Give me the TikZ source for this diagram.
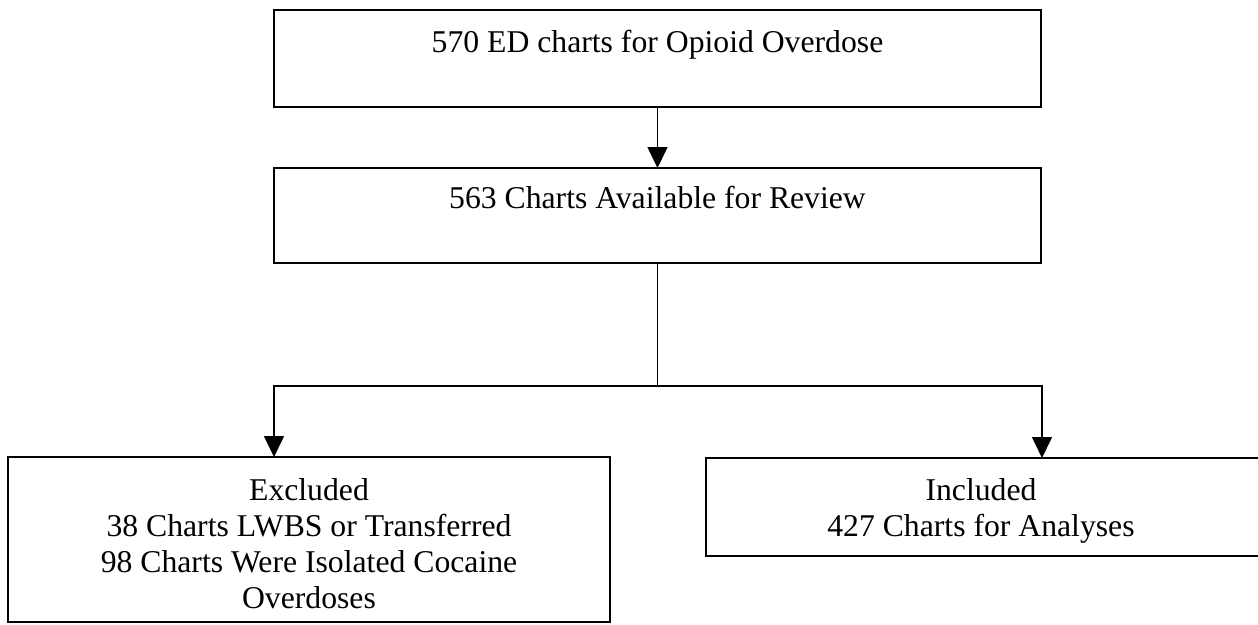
\documentclass[tikz,border=0pt]{standalone}
\usepackage{fontspec}
\setmainfont{Liberation Serif}
\usetikzlibrary{arrows.meta}
\tikzset{
  boxnode/.style={draw=black, line width=2.2pt, rectangle, inner sep=0pt, outer sep=0pt, anchor=north west},
  txt/.style={anchor=base, inner sep=0pt, font=\fontsize{31.7}{36}\selectfont},
  conn/.style={draw=black, line width=1.6pt},
  arr/.style={conn, -{Triangle[width=20pt,length=21pt]}}
}
\newcommand{\mlines}[2]{\parbox[t]{#1}{\centering #2}}
\begin{document}
\begin{tikzpicture}[x=1pt,y=-1pt]
\useasboundingbox (0,0) rectangle (1258,624);
\fill[white] (0,0) rectangle (1258,624);
% boxes
\node[boxnode, minimum width=767pt, minimum height=97pt] (b1) at (274,10) {};
\node[boxnode, minimum width=767pt, minimum height=95pt] (b2) at (274,168) {};
\node[boxnode, minimum width=602pt, minimum height=165pt] (excl) at (8,457) {};
\node[boxnode, minimum width=556pt, minimum height=98pt] (incl) at (706,458) {};
% texts
\node[txt] (t1) at (657.5,52) {570 ED charts for Opioid Overdose};
\node[txt] (t2) at (657.5,208) {563 Charts Available for Review};
\node[txt] (t3) at (309,500) {\mlines{600pt}{Excluded\\38 Charts LWBS or Transferred\\98 Charts Were Isolated Cocaine\\Overdoses}};
\node[txt] (t4) at (981,500) {\mlines{540pt}{Included\\427 Charts for Analyses}};
% connectors
\coordinate (split) at (657.5,386);
\draw[arr] (b1.south) -- (b2.north);
\draw[conn] (b2.south) -- (split);
\draw[arr] (split) -| (b2.west |- excl.north);
\draw[arr] (split) -| ([xshift=1pt]b2.east |- incl.north);
\end{tikzpicture}
\end{document}
